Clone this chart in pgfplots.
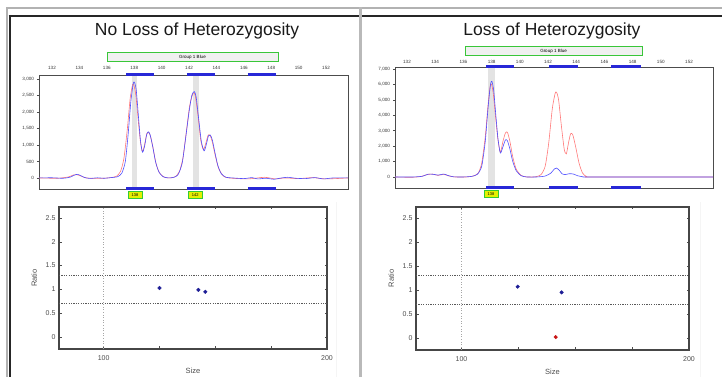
\documentclass[border=0pt]{standalone}
\usepackage{pgfplots}
\pgfplotsset{compat=1.18}
\usepackage{fontspec}
\setmainfont{Liberation Sans}
\definecolor{trblue}{RGB}{80,80,255}
\definecolor{trred}{RGB}{255,120,120}
\definecolor{binblue}{RGB}{40,40,215}
\definecolor{navy}{RGB}{30,30,150}
\definecolor{dotred}{RGB}{200,20,20}
\definecolor{yel}{RGB}{228,240,0}
\pgfplotsset{
 epg/.style={scale only axis, clip=false,
   axis line style={draw=gray!60!black, line width=0.7pt},
   xtick={132,134,...,152}, xticklabel pos=upper,
   xtick style={draw=none},
   ytick pos=left, tick align=outside, major tick length=2pt,
   ytick style={draw=gray!60!black, line width=0.4pt},
   tick label style={font=\fontsize{4.6}{5}\selectfont, text=black!80},
   /pgf/number format/assume math mode=true,
   yticklabel style={/pgf/number format/1000 sep={,}, xshift=0.5pt},
   xticklabel style={/pgf/number format/1000 sep={}},
 },
 sct/.style={scale only axis, clip=false,
   xmin=80, xmax=200, ymin=-0.25, ymax=2.73,
   axis line style={draw=gray!55!black, line width=1.4pt},
   xtick={100,125,150,175,200}, xticklabels={100,,,,200},
   ytick={0,0.5,1,1.5,2,2.5}, yticklabels={0,0.5,1,1.5,2,2.5},
   tick align=inside, major tick length=2.5pt,
   tick style={draw=gray!60!black, line width=0.5pt},
   tick label style={font=\fontsize{7}{7}\selectfont, text=black!70},
   xticklabel style={yshift=-3.5pt},
   /pgf/number format/assume math mode=true,
   xlabel={Size}, ylabel={Ratio},
   label style={font=\fontsize{7.5}{8}\selectfont, text=black!70},
   xlabel style={yshift=0pt}, ylabel style={yshift=2pt},
 },
}
\begin{document}
\begin{tikzpicture}
\path[use as bounding box] (0pt,0pt) rectangle (722pt,377pt);
% frame
\draw[gray!60, line width=1.6pt] (6pt,369pt) -- (722pt,369pt);
\draw[gray!60, line width=1.6pt] (7pt,369.8pt) -- (7pt,0pt);
\draw[black!85, line width=2pt] (8.5pt,361pt) -- (722pt,361pt);
\draw[black!85, line width=2pt] (9.5pt,362pt) -- (9.5pt,0pt);
\draw[gray!55, line width=2.6pt] (360.5pt,369.8pt) -- (360.5pt,0pt);
\draw[gray!8, line width=0.8pt] (336pt,175pt) -- (336pt,0pt);
\draw[gray!8, line width=0.8pt] (700pt,175pt) -- (700pt,0pt);
% titles
\node[font=\fontsize{17.5}{18}\selectfont, text=black!90] at (197pt,346pt) {No Loss of Heterozygosity};
\node[font=\fontsize{17.5}{18}\selectfont, text=black!90] at (552pt,346pt) {Loss of Heterozygosity};
% group boxes
\node[draw=green!55!gray, line width=0.6pt, fill=gray!12, minimum width=171pt, minimum height=9.5pt, inner sep=0pt, font=\fontsize{4.5}{5}\selectfont] at (192.5pt,320pt) {Group 1 Blue};
\node[draw=green!55!gray, line width=0.6pt, fill=gray!12, minimum width=177pt, minimum height=9.5pt, inner sep=0pt, font=\fontsize{4.5}{5}\selectfont] at (553.5pt,326pt) {Group 1 Blue};

% ===== left electropherogram
\begin{axis}[epg, at={(39pt,188pt)}, anchor=south west, width=309pt, height=114pt,
  xmin=131.05, xmax=153.6, ymin=-335, ymax=3120, ytick={0,500,...,3000},
  xticklabel style={yshift=-0.5pt}]
\addplot[fill=gray!22, draw=none] coordinates {(137.84,-335) (138.2,-335) (138.2,3120) (137.84,3120)} --cycle;
\addplot[fill=gray!22, draw=none] coordinates {(142.3,-335) (142.73,-335) (142.73,3120) (142.3,3120)} --cycle;
\addplot[trred, line width=0.6pt, smooth, tension=0.4] coordinates {
(131.05,0) (132.4,-10) (133.2,30) (133.55,90) (133.8,100) (134.1,60) (134.5,0) (135.4,-15) (136.2,5) (136.7,50) (137.0,200) (137.25,600) (137.5,1500) (137.7,2400) (137.88,2830) (137.98,2800) (138.12,2500) (138.28,1800) (138.45,1100) (138.6,800) (138.75,1000) (138.92,1350) (139.05,1380) (139.2,1250) (139.4,850) (139.6,420) (139.85,150) (140.2,20) (140.6,0) (141.0,40) (141.3,200) (141.55,600) (141.8,1400) (142.05,2200) (142.3,2570) (142.45,2500) (142.65,1900) (142.85,1150) (143.05,850) (143.22,1050) (143.4,1300) (143.55,1280) (143.72,1050) (143.9,700) (144.15,300) (144.5,60) (144.9,0) (146.3,-30) (147.5,20) (148.3,-30) (149,0) (150,-20) (151,10) (152,-30) (153.6,0)};
\addplot[trblue, line width=0.6pt, smooth, tension=0.4] coordinates {
(131.05,0) (132.0,5) (132.8,-10) (133.3,20) (133.6,80) (133.85,110) (134.1,70) (134.4,10) (134.8,-15) (135.3,5) (135.8,-10) (136.3,10) (136.8,40) (137.1,150) (137.35,500) (137.55,1300) (137.75,2300) (137.92,2850) (138.02,2900) (138.15,2650) (138.3,1900) (138.45,1150) (138.6,780) (138.75,950) (138.9,1300) (139.02,1400) (139.15,1320) (139.35,950) (139.55,500) (139.8,180) (140.1,40) (140.5,0) (140.9,20) (141.2,100) (141.5,450) (141.75,1200) (142.0,2000) (142.2,2500) (142.38,2620) (142.52,2450) (142.7,1800) (142.9,1100) (143.1,820) (143.25,1000) (143.42,1280) (143.55,1300) (143.7,1150) (143.9,750) (144.1,380) (144.35,130) (144.7,20) (145.2,0) (146,-20) (146.6,10) (147,-30) (147.6,-10) (148.2,-40) (148.6,-10) (149.2,20) (149.8,-10) (150.5,-20) (151.2,10) (151.8,-30) (152.5,0) (153.6,0)};
\addplot[binblue, line width=3pt] coordinates {(137.4,3120) (139.45,3120)};
\addplot[binblue, line width=3pt] coordinates {(141.85,3120) (143.9,3120)};
\addplot[binblue, line width=3pt] coordinates {(146.3,3120) (148.35,3120)};
\addplot[binblue, line width=3pt] coordinates {(137.4,-335) (139.45,-335)};
\addplot[binblue, line width=3pt] coordinates {(141.85,-335) (143.9,-335)};
\addplot[binblue, line width=3pt] coordinates {(146.3,-335) (148.35,-335)};
\node[fill=yel, draw=green!60!gray, line width=0.4pt, minimum width=14pt, minimum height=7.5pt, inner sep=0pt, font=\fontsize{4}{4}\selectfont, anchor=north] at (axis cs:138.05,-335) [yshift=-2pt] {138};
\node[fill=yel, draw=green!60!gray, line width=0.4pt, minimum width=14pt, minimum height=7.5pt, inner sep=0pt, font=\fontsize{4}{4}\selectfont, anchor=north] at (axis cs:142.45,-335) [yshift=-2pt] {142};
\end{axis}

% ===== right electropherogram
\begin{axis}[epg, at={(395pt,189pt)}, anchor=south west, width=318pt, height=121pt,
  xmin=131.15, xmax=153.7, ymin=-715, ymax=7130, ytick={0,1000,...,7000},
  xticklabel style={yshift=-2.5pt}]
\addplot[fill=gray!22, draw=none] coordinates {(137.74,-715) (138.24,-715) (138.24,7130) (137.74,7130)} --cycle;
\addplot[trred, line width=0.6pt, smooth, tension=0.4] coordinates {
(131.15,0) (132.3,-20) (133.0,30) (133.4,150) (133.8,190) (134.2,100) (134.6,170) (135.0,60) (135.4,0) (136.2,0) (136.7,60) (137.05,250) (137.3,900) (137.55,2600) (137.75,4700) (137.9,5900) (138.0,6000) (138.12,5400) (138.28,3900) (138.45,2400) (138.62,1600) (138.8,2300) (138.98,2850) (139.12,2900) (139.3,2300) (139.5,1300) (139.75,500) (140.1,100) (140.5,0) (141.1,10) (141.5,150) (141.8,700) (142.05,2200) (142.3,4400) (142.5,5400) (142.6,5500) (142.75,5000) (142.95,3300) (143.15,1800) (143.3,1500) (143.45,2200) (143.6,2800) (143.75,2750) (143.95,2000) (144.2,900) (144.45,250) (144.75,20) (145.2,0) (153.7,0)};
\addplot[trblue, line width=0.6pt, smooth, tension=0.4] coordinates {
(131.15,0) (132.5,0) (133.1,50) (133.5,180) (133.9,170) (134.2,120) (134.6,190) (134.9,100) (135.3,10) (136,0) (136.6,40) (137.0,180) (137.3,700) (137.55,2300) (137.75,4500) (137.92,6000) (138.02,6200) (138.15,5600) (138.3,4000) (138.45,2500) (138.62,1550) (138.8,1950) (138.98,2400) (139.12,2350) (139.3,1800) (139.5,1000) (139.75,400) (140.1,80) (140.5,0) (141.2,0) (141.8,60) (142.2,250) (142.45,520) (142.6,580) (142.8,430) (143.0,200) (143.2,150) (143.5,210) (143.8,190) (144.1,80) (144.5,10) (145,0) (153.7,0)};
\addplot[binblue, line width=3pt] coordinates {(137.6,7130) (139.6,7130)};
\addplot[binblue, line width=3pt] coordinates {(142.07,7130) (144.1,7130)};
\addplot[binblue, line width=3pt] coordinates {(146.5,7130) (148.6,7130)};
\addplot[binblue, line width=3pt] coordinates {(137.6,-715) (139.6,-715)};
\addplot[binblue, line width=3pt] coordinates {(142.07,-715) (144.1,-715)};
\addplot[binblue, line width=3pt] coordinates {(146.5,-715) (148.6,-715)};
\node[fill=yel, draw=green!60!gray, line width=0.4pt, minimum width=14pt, minimum height=7.5pt, inner sep=0pt, font=\fontsize{4}{4}\selectfont, anchor=north] at (axis cs:137.95,-715) [yshift=-2pt] {138};
\end{axis}

% ===== left scatter
\begin{axis}[sct, at={(59pt,28pt)}, anchor=south west, width=268pt, height=142pt]
\addplot[gray!70, line width=0.6pt, dotted] coordinates {(100,-0.25) (100,2.73)};
\addplot[black!65, line width=0.7pt, dash pattern=on 1.2pt off 1.2pt] coordinates {(80,1.3) (200,1.3)};
\addplot[black!65, line width=0.7pt, dash pattern=on 1.2pt off 1.2pt] coordinates {(80,0.7) (200,0.7)};
\addplot[only marks, mark=*, mark size=1.8pt, navy] coordinates {(125,1.03) (142.4,0.99) (145.5,0.95)};
\end{axis}

% ===== right scatter
\begin{axis}[sct, at={(416pt,27pt)}, anchor=south west, width=273pt, height=143pt]
\addplot[gray!70, line width=0.6pt, dotted] coordinates {(100,-0.25) (100,2.73)};
\addplot[black!65, line width=0.7pt, dash pattern=on 1.2pt off 1.2pt] coordinates {(80,1.31) (200,1.31)};
\addplot[black!65, line width=0.7pt, dash pattern=on 1.2pt off 1.2pt] coordinates {(80,0.7) (200,0.7)};
\addplot[only marks, mark=*, mark size=1.8pt, navy] coordinates {(124.7,1.07) (144,0.95)};
\addplot[only marks, mark=*, mark size=1.8pt, dotred] coordinates {(141.4,0.02)};
\end{axis}
\end{tikzpicture}
\end{document}
